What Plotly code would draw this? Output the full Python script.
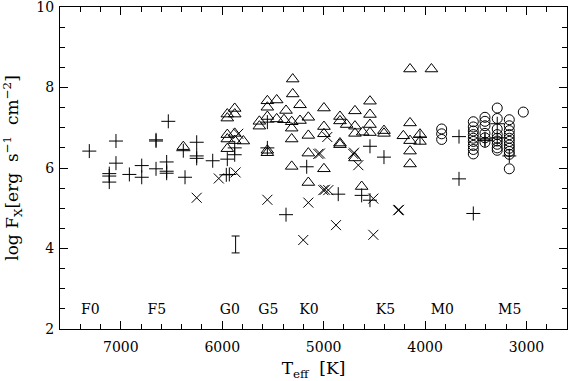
import plotly.graph_objects as go

# Plus symbols (Teff [K], log Fx)
plus_teff = [7311, 7048, 7048, 7114, 7114, 7114, 6916, 6794, 6794, 6653, 6653, 6653,
             6548, 6548, 6548, 6532, 6384, 6367, 6252, 6252, 6252, 6094, 5950, 5960,
             5930, 5877, 5877, 5555, 5555, 5371, 5167, 4856, 4625, 4543, 4543, 4405,
             4050, 3665, 3665, 3524, 3409, 3409, 3288, 3288, 3169]
plus_logfx = [6.42, 6.67, 6.12, 5.86, 5.80, 5.65, 5.84, 6.06, 5.77, 6.70, 6.67, 5.98,
              6.15, 5.92, 5.87, 7.16, 6.43, 5.77, 6.64, 6.30, 6.24, 6.18, 6.22, 5.83,
              5.84, 6.50, 6.33, 7.14, 6.50, 4.84, 6.03, 5.35, 5.32, 5.20, 6.54, 6.27,
              6.76, 6.78, 5.73, 4.87, 6.68, 6.72, 7.10, 6.75, 6.30]

# Open triangles
tri_teff = [6384, 5950, 5950, 5877, 5877, 5950, 5877, 5950, 5877, 5792, 5950,
            5555, 5463, 5555, 5371, 5555, 5634, 5634, 5463, 5391, 5315, 5315, 5233,
            5305, 5305, 5233, 5151, 5315, 5151, 5151, 5555, 5555, 5315, 5151,
            4997, 4997, 4997, 4997, 4839, 4839, 4691, 4543, 4543, 4543, 4773, 4691,
            4691, 4615, 4543, 4405, 4405, 4839, 4839, 4691, 4625,
            4148, 3937, 4148, 4214, 4148, 4148, 4148, 4050, 4050]
tri_logfx = [6.53, 7.34, 7.24, 7.48, 7.34, 6.83, 6.86, 6.72, 6.68, 6.67, 6.48,
             7.67, 7.69, 7.51, 7.43, 7.28, 7.16, 7.04, 7.22, 7.20, 7.15, 6.99, 7.18,
             8.21, 7.84, 7.57, 7.26, 6.72, 6.81, 6.37, 6.44, 6.38, 6.04, 5.64,
             7.49, 7.03, 6.85, 5.98, 7.28, 7.17, 7.42, 7.66, 7.33, 7.08, 7.08, 7.04,
             6.86, 6.89, 6.88, 6.93, 6.86, 6.62, 6.58, 6.25, 5.54,
             8.46, 8.46, 7.12, 6.80, 6.68, 6.42, 6.10, 6.84, 6.66]

# Crosses
x_teff = [5842, 6034, 5868, 6252, 5555, 5201, 5151, 5053, 5036, 4964, 4708, 4700,
          4658, 5003, 4987, 4954, 4510, 4878, 4510, 4257, 4265]
x_logfx = [6.85, 5.74, 5.89, 5.26, 5.21, 4.21, 5.14, 6.35, 6.36, 6.77, 6.35, 6.38,
           6.07, 5.45, 5.46, 5.45, 5.24, 4.58, 4.34, 4.96, 4.95]

# Open circles
circ_teff = [3836, 3836, 3836,
             3524, 3524, 3524, 3524, 3524, 3524, 3524, 3524, 3524,
             3409, 3409, 3409, 3409, 3409, 3409,
             3288, 3288, 3288, 3288, 3288, 3288, 3288, 3288, 3288,
             3169, 3169, 3169, 3169, 3169, 3169, 3169, 3169, 3169, 3169, 3169,
             3031]
circ_logfx = [6.97, 6.85, 6.71,
              7.15, 7.02, 6.92, 6.83, 6.74, 6.66, 6.56, 6.46, 6.35,
              7.26, 7.16, 7.05, 6.86, 6.75, 6.64,
              7.49, 7.23, 6.97, 6.83, 6.74, 6.67, 6.59, 6.50, 6.44,
              7.20, 7.05, 6.93, 6.83, 6.74, 6.66, 6.57, 6.49, 6.41, 6.34, 5.98,
              7.39]

# typical error bar
err_teff = [5868]
err_logfx = [4.10]
err_size = [0.21]

# spectral type labels
sp_types = ["F0", "F5", "G0", "G5", "K0", "K5", "M0", "M5"]
sp_teff = [7300, 6645, 5925, 5545, 5145, 4390, 3830, 3165]
sp_y = [2.45] * len(sp_types)

FONT = "DejaVu Serif"
black = "black"

fig = go.Figure()

def add_group(tx, fx, symbol, size, width=1):
    fig.add_trace(go.Scatter(
        x=tx, y=fx, mode="markers",
        marker=dict(symbol=symbol, size=size, color=black,
                    line=dict(color=black, width=width)),
        showlegend=False, hoverinfo="skip"
    ))

add_group(plus_teff, plus_logfx, "cross-thin-open", 10)
add_group(tri_teff, tri_logfx, "triangle-up-open", 11)
add_group(x_teff, x_logfx, "x-thin-open", 10)
add_group(circ_teff, circ_logfx, "circle-open", 10)

fig.add_trace(go.Scatter(
    x=err_teff, y=err_logfx, mode="markers",
    marker=dict(size=1, color="rgba(0,0,0,0)"),
    error_y=dict(type="data", array=err_size, width=4, thickness=1, color=black),
    showlegend=False, hoverinfo="skip"
))

fig.add_trace(go.Scatter(
    x=sp_teff, y=sp_y, mode="text", text=sp_types,
    textposition="middle center",
    textfont=dict(family=FONT, size=14, color=black),
    showlegend=False, hoverinfo="skip"
))

fig.update_layout(
    width=568, height=381,
    margin=dict(l=60, r=1, t=7, b=52),
    paper_bgcolor="white", plot_bgcolor="white",
    font=dict(family=FONT, size=14, color=black),
)

fig.update_xaxes(
    range=[7600, 2600], tick0=0, dtick=1000, automargin=False,
    ticks="inside", ticklen=8, tickcolor=black, ticklabelstandoff=5,
    minor=dict(dtick=200, ticks="inside", ticklen=5, tickcolor=black),
    showline=True, linecolor=black, linewidth=1, mirror="ticks",
    showgrid=False, zeroline=False,
    title=dict(text="T<sub>eff</sub>  [K]", standoff=12),
)
fig.update_yaxes(
    range=[1.999, 10.001], tick0=0, dtick=2, automargin=False,
    ticks="inside", ticklen=8, tickcolor=black, ticklabelstandoff=2,
    ticklabeloverflow="allow",
    minor=dict(dtick=0.5, ticks="inside", ticklen=5, tickcolor=black),
    showline=True, linecolor=black, linewidth=1, mirror="ticks",
    showgrid=False, zeroline=False,
    title=dict(text="log F<sub>X</sub>[erg  s<sup>−1</sup>  cm<sup>−2</sup>]", standoff=22),
)

fig.write_html("out.html", config={"displayModeBar": False},
               post_script="document.body.style.margin='0';")
